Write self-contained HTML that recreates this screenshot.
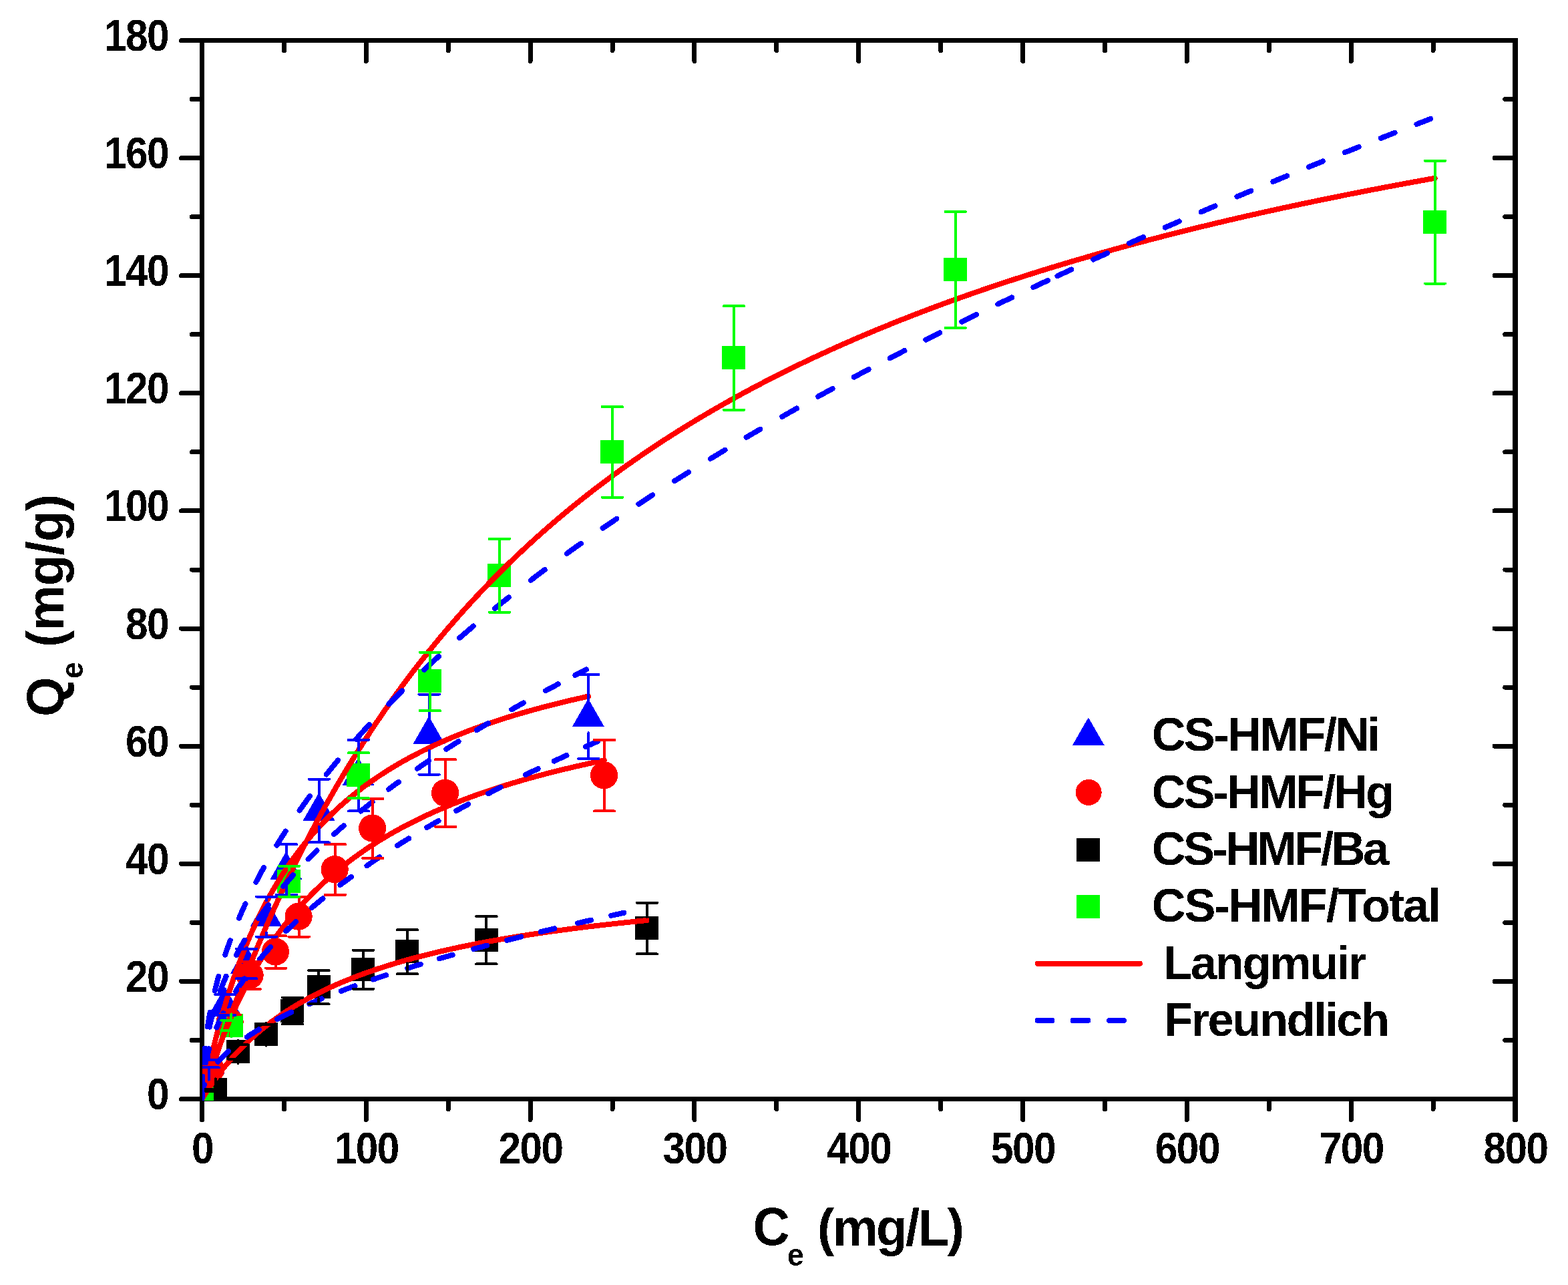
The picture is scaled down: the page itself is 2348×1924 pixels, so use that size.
<!DOCTYPE html>
<html lang="en"><head><meta charset="utf-8"><title>Adsorption isotherms</title>
<style>html,body{margin:0;padding:0;background:#fff;}body{width:2348px;height:1924px;overflow:hidden;}svg{display:block;}text{font-family:"Liberation Sans",sans-serif;font-weight:bold;fill:#000;}</style>
</head><body>
<svg width="2348" height="1924" viewBox="0 0 2348 1924" role="img" aria-label="Adsorption isotherms: Qe (mg/g) versus Ce (mg/L) with Langmuir and Freundlich fits">
<defs><clipPath id="plot"><rect x="303" y="56.5" width="1970" height="1591.5"/></clipPath>
<filter id="crisp" x="0" y="0" width="100%" height="100%" filterUnits="objectBoundingBox" color-interpolation-filters="sRGB"><feComponentTransfer><feFuncA type="discrete" tableValues="0 1"/></feComponentTransfer></filter>
</defs>
<rect width="2348" height="1924" fill="#ffffff"/>
<g id="axes" stroke="#000" fill="none" shape-rendering="crispEdges">
<line x1="299" y1="60.5" x2="2273" y2="60.5" stroke-width="7"/>
<line x1="299" y1="1645.5" x2="2273" y2="1645.5" stroke-width="7"/>
<line x1="302.5" y1="57" x2="302.5" y2="1649" stroke-width="7"/>
<line x1="2269" y1="57" x2="2269" y2="1649" stroke-width="8"/>
</g>
<g id="ticks" stroke="#000" fill="none" stroke-width="7" stroke-linecap="round" shape-rendering="crispEdges">
<line x1="302.5" y1="1645.5" x2="271.5" y2="1645.5"/>
<line x1="2269" y1="1645.5" x2="2238" y2="1645.5"/>
<line x1="302.5" y1="1557.44" x2="287.3" y2="1557.44"/>
<line x1="2269" y1="1557.44" x2="2253.8" y2="1557.44"/>
<line x1="302.5" y1="1469.39" x2="271.5" y2="1469.39"/>
<line x1="2269" y1="1469.39" x2="2238" y2="1469.39"/>
<line x1="302.5" y1="1381.33" x2="287.3" y2="1381.33"/>
<line x1="2269" y1="1381.33" x2="2253.8" y2="1381.33"/>
<line x1="302.5" y1="1293.28" x2="271.5" y2="1293.28"/>
<line x1="2269" y1="1293.28" x2="2238" y2="1293.28"/>
<line x1="302.5" y1="1205.22" x2="287.3" y2="1205.22"/>
<line x1="2269" y1="1205.22" x2="2253.8" y2="1205.22"/>
<line x1="302.5" y1="1117.17" x2="271.5" y2="1117.17"/>
<line x1="2269" y1="1117.17" x2="2238" y2="1117.17"/>
<line x1="302.5" y1="1029.11" x2="287.3" y2="1029.11"/>
<line x1="2269" y1="1029.11" x2="2253.8" y2="1029.11"/>
<line x1="302.5" y1="941.06" x2="271.5" y2="941.06"/>
<line x1="2269" y1="941.06" x2="2238" y2="941.06"/>
<line x1="302.5" y1="853" x2="287.3" y2="853"/>
<line x1="2269" y1="853" x2="2253.8" y2="853"/>
<line x1="302.5" y1="764.94" x2="271.5" y2="764.94"/>
<line x1="2269" y1="764.94" x2="2238" y2="764.94"/>
<line x1="302.5" y1="676.89" x2="287.3" y2="676.89"/>
<line x1="2269" y1="676.89" x2="2253.8" y2="676.89"/>
<line x1="302.5" y1="588.83" x2="271.5" y2="588.83"/>
<line x1="2269" y1="588.83" x2="2238" y2="588.83"/>
<line x1="302.5" y1="500.78" x2="287.3" y2="500.78"/>
<line x1="2269" y1="500.78" x2="2253.8" y2="500.78"/>
<line x1="302.5" y1="412.72" x2="271.5" y2="412.72"/>
<line x1="2269" y1="412.72" x2="2238" y2="412.72"/>
<line x1="302.5" y1="324.67" x2="287.3" y2="324.67"/>
<line x1="2269" y1="324.67" x2="2253.8" y2="324.67"/>
<line x1="302.5" y1="236.61" x2="271.5" y2="236.61"/>
<line x1="2269" y1="236.61" x2="2238" y2="236.61"/>
<line x1="302.5" y1="148.56" x2="287.3" y2="148.56"/>
<line x1="2269" y1="148.56" x2="2253.8" y2="148.56"/>
<line x1="302.5" y1="60.5" x2="271.5" y2="60.5"/>
<line x1="2269" y1="60.5" x2="2238" y2="60.5"/>
<line x1="302.5" y1="1645.5" x2="302.5" y2="1676.5"/>
<line x1="302.5" y1="60.5" x2="302.5" y2="91.5"/>
<line x1="425.41" y1="1645.5" x2="425.41" y2="1660.7"/>
<line x1="425.41" y1="60.5" x2="425.41" y2="75.7"/>
<line x1="548.31" y1="1645.5" x2="548.31" y2="1676.5"/>
<line x1="548.31" y1="60.5" x2="548.31" y2="91.5"/>
<line x1="671.22" y1="1645.5" x2="671.22" y2="1660.7"/>
<line x1="671.22" y1="60.5" x2="671.22" y2="75.7"/>
<line x1="794.12" y1="1645.5" x2="794.12" y2="1676.5"/>
<line x1="794.12" y1="60.5" x2="794.12" y2="91.5"/>
<line x1="917.03" y1="1645.5" x2="917.03" y2="1660.7"/>
<line x1="917.03" y1="60.5" x2="917.03" y2="75.7"/>
<line x1="1039.94" y1="1645.5" x2="1039.94" y2="1676.5"/>
<line x1="1039.94" y1="60.5" x2="1039.94" y2="91.5"/>
<line x1="1162.84" y1="1645.5" x2="1162.84" y2="1660.7"/>
<line x1="1162.84" y1="60.5" x2="1162.84" y2="75.7"/>
<line x1="1285.75" y1="1645.5" x2="1285.75" y2="1676.5"/>
<line x1="1285.75" y1="60.5" x2="1285.75" y2="91.5"/>
<line x1="1408.66" y1="1645.5" x2="1408.66" y2="1660.7"/>
<line x1="1408.66" y1="60.5" x2="1408.66" y2="75.7"/>
<line x1="1531.56" y1="1645.5" x2="1531.56" y2="1676.5"/>
<line x1="1531.56" y1="60.5" x2="1531.56" y2="91.5"/>
<line x1="1654.47" y1="1645.5" x2="1654.47" y2="1660.7"/>
<line x1="1654.47" y1="60.5" x2="1654.47" y2="75.7"/>
<line x1="1777.38" y1="1645.5" x2="1777.38" y2="1676.5"/>
<line x1="1777.38" y1="60.5" x2="1777.38" y2="91.5"/>
<line x1="1900.28" y1="1645.5" x2="1900.28" y2="1660.7"/>
<line x1="1900.28" y1="60.5" x2="1900.28" y2="75.7"/>
<line x1="2023.19" y1="1645.5" x2="2023.19" y2="1676.5"/>
<line x1="2023.19" y1="60.5" x2="2023.19" y2="91.5"/>
<line x1="2146.09" y1="1645.5" x2="2146.09" y2="1660.7"/>
<line x1="2146.09" y1="60.5" x2="2146.09" y2="75.7"/>
<line x1="2269" y1="1645.5" x2="2269" y2="1676.5" stroke-width="8"/>
<line x1="2269" y1="60.5" x2="2269" y2="91.5"/>
</g>
<g id="series" clip-path="url(#plot)">
<g id="sym-Ni" fill="#0000ff" stroke="none" shape-rendering="crispEdges">
<polygon points="312.5,1565.57 336.5,1607.57 288.5,1607.57"/>
<polygon points="336.91,1477.51 360.91,1519.51 312.91,1519.51"/>
<polygon points="368.87,1415.87 392.87,1457.87 344.87,1457.87"/>
<polygon points="398.61,1345.43 422.61,1387.43 374.61,1387.43"/>
<polygon points="428.36,1274.98 452.36,1316.98 404.36,1316.98"/>
<polygon points="477.52,1186.93 501.52,1228.93 453.52,1228.93"/>
<polygon points="536.51,1134.09 560.51,1176.09 512.51,1176.09"/>
<polygon points="642.21,1072.46 666.21,1114.46 618.21,1114.46"/>
<polygon points="880.9,1046.04 904.9,1088.04 856.9,1088.04"/>
</g>
<g id="sym-Hg" fill="#ff0000" stroke="none" shape-rendering="crispEdges">
<circle cx="315.82" cy="1601.07" r="20.6"/>
<circle cx="344.09" cy="1530.63" r="20.6"/>
<circle cx="374.08" cy="1460.18" r="20.6"/>
<circle cx="412.42" cy="1424.96" r="20.6"/>
<circle cx="447.08" cy="1372.13" r="20.6"/>
<circle cx="501.16" cy="1301.68" r="20.6"/>
<circle cx="557.7" cy="1240.04" r="20.6"/>
<circle cx="666.59" cy="1187.21" r="20.6"/>
<circle cx="904.54" cy="1160.79" r="20.6"/>
</g>
<g id="sym-Ba" fill="#000000" stroke="none" shape-rendering="crispEdges">
<rect x="304.91" y="1614.39" width="35" height="35"/>
<rect x="338.59" y="1557.16" width="35" height="35"/>
<rect x="380.5" y="1530.74" width="35" height="35"/>
<rect x="420.2" y="1495.52" width="35" height="35"/>
<rect x="459.53" y="1460.29" width="35" height="35"/>
<rect x="525.9" y="1433.88" width="35" height="35"/>
<rect x="592.02" y="1407.46" width="35" height="35"/>
<rect x="710.5" y="1389.85" width="35" height="35"/>
<rect x="950.91" y="1372.24" width="35" height="35"/>
</g>
<g id="sym-Total" fill="#00ff00" stroke="none" shape-rendering="crispEdges">
<rect x="285" y="1627.6" width="35" height="35"/>
<rect x="328.51" y="1517.53" width="35" height="35"/>
<rect x="415.03" y="1301.79" width="35" height="35"/>
<rect x="519.01" y="1143.29" width="35" height="35"/>
<rect x="625.94" y="1002.41" width="35" height="35"/>
<rect x="729.92" y="843.91" width="35" height="35"/>
<rect x="899.04" y="658.99" width="35" height="35"/>
<rect x="1080.94" y="518.1" width="35" height="35"/>
<rect x="1412.79" y="386.02" width="35" height="35"/>
<rect x="2131.05" y="314.69" width="35" height="35"/>
</g>
<g id="langmuir" fill="none" stroke="#ff0000" stroke-width="8" stroke-linecap="round" stroke-linejoin="round" shape-rendering="crispEdges">
<path id="L-Ni" d="M302.5,1645.5 L302.5,1645.49 L302.51,1645.47 L302.51,1645.44 L302.52,1645.38 L302.54,1645.31 L302.56,1645.22 L302.58,1645.1 L302.61,1644.97 L302.64,1644.81 L302.67,1644.63 L302.71,1644.43 L302.76,1644.21 L302.81,1643.96 L302.86,1643.68 L302.92,1643.39 L302.99,1643.07 L303.06,1642.72 L303.13,1642.35 L303.21,1641.95 L303.3,1641.53 L303.39,1641.09 L303.48,1640.61 L303.59,1640.11 L303.69,1639.59 L303.8,1639.04 L303.92,1638.46 L304.05,1637.86 L304.17,1637.23 L304.31,1636.57 L304.45,1635.89 L304.59,1635.18 L304.75,1634.45 L304.9,1633.69 L305.07,1632.9 L305.24,1632.08 L305.41,1631.24 L305.59,1630.37 L305.78,1629.48 L305.97,1628.55 L306.17,1627.61 L306.37,1626.63 L306.59,1625.63 L306.8,1624.61 L307.03,1623.55 L307.26,1622.47 L307.49,1621.37 L307.73,1620.24 L307.98,1619.08 L308.23,1617.9 L308.5,1616.7 L308.76,1615.46 L309.04,1614.21 L309.32,1612.92 L309.6,1611.62 L309.89,1610.29 L310.19,1608.93 L310.5,1607.55 L310.81,1606.15 L311.13,1604.72 L311.45,1603.27 L311.79,1601.79 L312.12,1600.3 L312.47,1598.78 L312.82,1597.23 L313.18,1595.67 L313.54,1594.08 L313.91,1592.47 L314.29,1590.84 L314.68,1589.19 L315.07,1587.52 L315.47,1585.82 L315.87,1584.11 L316.28,1582.37 L316.7,1580.62 L317.13,1578.84 L317.56,1577.05 L318,1575.24 L318.45,1573.41 L318.9,1571.55 L319.36,1569.69 L319.83,1567.8 L320.3,1565.9 L320.78,1563.98 L321.27,1562.04 L321.77,1560.08 L322.27,1558.11 L322.78,1556.12 L323.29,1554.12 L323.82,1552.1 L324.35,1550.07 L324.89,1548.02 L325.43,1545.96 L325.98,1543.88 L326.54,1541.79 L327.11,1539.69 L327.68,1537.57 L328.26,1535.44 L328.85,1533.3 L329.45,1531.15 L330.05,1528.98 L330.66,1526.81 L331.27,1524.62 L331.9,1522.42 L332.53,1520.21 L333.17,1517.99 L333.82,1515.76 L334.47,1513.52 L335.13,1511.27 L335.8,1509.02 L336.47,1506.75 L337.16,1504.48 L337.85,1502.2 L338.55,1499.91 L339.25,1497.61 L339.96,1495.31 L340.69,1493 L341.41,1490.68 L342.15,1488.36 L342.89,1486.03 L343.64,1483.7 L344.4,1481.36 L345.17,1479.01 L345.94,1476.67 L346.72,1474.31 L347.51,1471.96 L348.3,1469.6 L349.11,1467.23 L349.92,1464.86 L350.74,1462.49 L351.56,1460.12 L352.4,1457.75 L353.24,1455.37 L354.09,1452.99 L354.95,1450.61 L355.81,1448.23 L356.68,1445.85 L357.56,1443.46 L358.45,1441.08 L359.35,1438.69 L360.25,1436.31 L361.16,1433.92 L362.08,1431.54 L363.01,1429.16 L363.94,1426.77 L364.89,1424.39 L365.84,1422.01 L366.8,1419.63 L367.76,1417.25 L368.74,1414.88 L369.72,1412.5 L370.71,1410.13 L371.71,1407.77 L372.71,1405.4 L373.72,1403.04 L374.75,1400.68 L375.78,1398.32 L376.81,1395.97 L377.86,1393.62 L378.91,1391.27 L379.97,1388.93 L381.04,1386.59 L382.12,1384.26 L383.2,1381.93 L384.3,1379.6 L385.4,1377.29 L386.51,1374.97 L387.63,1372.66 L388.75,1370.36 L389.88,1368.06 L391.03,1365.76 L392.18,1363.47 L393.33,1361.19 L394.5,1358.92 L395.67,1356.65 L396.86,1354.38 L398.05,1352.12 L399.24,1349.87 L400.45,1347.63 L401.67,1345.39 L402.89,1343.15 L404.12,1340.93 L405.36,1338.71 L406.61,1336.5 L407.86,1334.29 L409.13,1332.1 L410.4,1329.91 L411.68,1327.72 L412.97,1325.55 L414.26,1323.38 L415.57,1321.22 L416.88,1319.07 L418.2,1316.92 L419.53,1314.78 L420.87,1312.65 L422.22,1310.53 L423.57,1308.42 L424.94,1306.31 L426.31,1304.22 L427.69,1302.13 L429.08,1300.05 L430.47,1297.97 L431.88,1295.91 L433.29,1293.85 L434.71,1291.8 L436.14,1289.76 L437.58,1287.73 L439.03,1285.71 L440.48,1283.7 L441.95,1281.69 L443.42,1279.7 L444.9,1277.71 L446.39,1275.73 L447.89,1273.76 L449.39,1271.8 L450.91,1269.84 L452.43,1267.9 L453.96,1265.96 L455.5,1264.04 L457.05,1262.12 L458.6,1260.21 L460.17,1258.31 L461.74,1256.42 L463.33,1254.54 L464.92,1252.66 L466.52,1250.8 L468.12,1248.94 L469.74,1247.1 L471.37,1245.26 L473,1243.43 L474.64,1241.61 L476.29,1239.8 L477.95,1238 L479.62,1236.2 L481.3,1234.42 L482.98,1232.65 L484.68,1230.88 L486.38,1229.12 L488.09,1227.37 L489.81,1225.63 L491.54,1223.9 L493.28,1222.18 L495.02,1220.47 L496.78,1218.76 L498.54,1217.07 L500.31,1215.38 L502.09,1213.71 L503.88,1212.04 L505.68,1210.38 L507.49,1208.73 L509.3,1207.08 L511.13,1205.45 L512.96,1203.83 L514.8,1202.21 L516.65,1200.6 L518.51,1199 L520.38,1197.41 L522.25,1195.83 L524.14,1194.26 L526.03,1192.69 L527.94,1191.14 L529.85,1189.59 L531.77,1188.05 L533.7,1186.52 L535.64,1185 L537.59,1183.48 L539.54,1181.98 L541.51,1180.48 L543.48,1178.99 L545.46,1177.51 L547.45,1176.04 L549.46,1174.57 L551.46,1173.12 L553.48,1171.67 L555.51,1170.23 L557.55,1168.8 L559.59,1167.38 L561.64,1165.96 L563.71,1164.55 L565.78,1163.15 L567.86,1161.76 L569.95,1160.38 L572.05,1159 L574.15,1157.63 L576.27,1156.27 L578.4,1154.92 L580.53,1153.58 L582.67,1152.24 L584.82,1150.91 L586.99,1149.59 L589.16,1148.27 L591.34,1146.97 L593.52,1145.67 L595.72,1144.38 L597.93,1143.09 L600.14,1141.82 L602.37,1140.55 L604.6,1139.29 L606.84,1138.03 L609.09,1136.78 L611.35,1135.54 L613.62,1134.31 L615.9,1133.08 L618.19,1131.87 L620.49,1130.65 L622.79,1129.45 L625.11,1128.25 L627.43,1127.06 L629.76,1125.88 L632.11,1124.7 L634.46,1123.53 L636.82,1122.37 L639.19,1121.21 L641.57,1120.06 L643.95,1118.92 L646.35,1117.78 L648.76,1116.65 L651.17,1115.53 L653.6,1114.41 L656.03,1113.3 L658.47,1112.2 L660.92,1111.1 L663.38,1110.01 L665.85,1108.93 L668.33,1107.85 L670.82,1106.78 L673.32,1105.72 L675.83,1104.66 L678.34,1103.6 L680.87,1102.56 L683.4,1101.52 L685.95,1100.48 L688.5,1099.45 L691.06,1098.43 L693.64,1097.42 L696.22,1096.41 L698.81,1095.4 L701.41,1094.4 L704.02,1093.41 L706.63,1092.42 L709.26,1091.44 L711.9,1090.47 L714.54,1089.5 L717.2,1088.54 L719.86,1087.58 L722.54,1086.63 L725.22,1085.68 L727.91,1084.74 L730.61,1083.8 L733.33,1082.87 L736.05,1081.95 L738.78,1081.03 L741.52,1080.11 L744.26,1079.2 L747.02,1078.3 L749.79,1077.4 L752.57,1076.51 L755.35,1075.62 L758.15,1074.74 L760.95,1073.86 L763.77,1072.99 L766.59,1072.12 L769.42,1071.26 L772.26,1070.4 L775.12,1069.55 L777.98,1068.7 L780.85,1067.86 L783.73,1067.02 L786.62,1066.19 L789.52,1065.36 L792.42,1064.54 L795.34,1063.72 L798.27,1062.91 L801.21,1062.1 L804.15,1061.3 L807.11,1060.5 L810.07,1059.7 L813.05,1058.91 L816.03,1058.13 L819.03,1057.35 L822.03,1056.57 L825.04,1055.8 L828.06,1055.03 L831.09,1054.27 L834.14,1053.51 L837.19,1052.76 L840.25,1052.01 L843.32,1051.26 L846.4,1050.52 L849.48,1049.78 L852.58,1049.05 L855.69,1048.32 L858.81,1047.6 L861.93,1046.88 L865.07,1046.16 L868.22,1045.45 L871.37,1044.74 L874.54,1044.04 L877.71,1043.34 L880.9,1042.64"/>
<path id="L-Hg" d="M302.5,1645.5 L302.5,1645.5 L302.51,1645.48 L302.51,1645.46 L302.52,1645.42 L302.54,1645.36 L302.56,1645.3 L302.58,1645.22 L302.61,1645.12 L302.64,1645.01 L302.68,1644.88 L302.72,1644.73 L302.77,1644.57 L302.82,1644.4 L302.88,1644.2 L302.94,1643.99 L303.01,1643.76 L303.08,1643.51 L303.16,1643.24 L303.24,1642.96 L303.33,1642.66 L303.43,1642.34 L303.53,1642 L303.63,1641.64 L303.74,1641.26 L303.86,1640.87 L303.98,1640.45 L304.11,1640.02 L304.24,1639.57 L304.38,1639.1 L304.53,1638.6 L304.68,1638.09 L304.84,1637.56 L305,1637.02 L305.17,1636.45 L305.35,1635.86 L305.53,1635.25 L305.72,1634.63 L305.91,1633.98 L306.11,1633.32 L306.32,1632.63 L306.53,1631.93 L306.75,1631.2 L306.98,1630.46 L307.21,1629.7 L307.45,1628.92 L307.7,1628.12 L307.95,1627.3 L308.21,1626.46 L308.47,1625.6 L308.74,1624.73 L309.02,1623.83 L309.31,1622.92 L309.6,1621.99 L309.89,1621.04 L310.2,1620.07 L310.51,1619.08 L310.83,1618.07 L311.15,1617.05 L311.48,1616 L311.82,1614.94 L312.17,1613.87 L312.52,1612.77 L312.88,1611.66 L313.25,1610.52 L313.62,1609.38 L314,1608.21 L314.38,1607.03 L314.78,1605.83 L315.18,1604.61 L315.59,1603.38 L316,1602.13 L316.42,1600.87 L316.85,1599.59 L317.29,1598.29 L317.73,1596.98 L318.18,1595.65 L318.64,1594.3 L319.1,1592.94 L319.58,1591.57 L320.06,1590.18 L320.54,1588.78 L321.04,1587.36 L321.54,1585.93 L322.05,1584.48 L322.56,1583.02 L323.08,1581.55 L323.61,1580.06 L324.15,1578.56 L324.7,1577.05 L325.25,1575.52 L325.81,1573.99 L326.38,1572.43 L326.95,1570.87 L327.53,1569.3 L328.12,1567.71 L328.72,1566.11 L329.32,1564.5 L329.94,1562.88 L330.56,1561.25 L331.18,1559.6 L331.82,1557.95 L332.46,1556.29 L333.11,1554.61 L333.77,1552.93 L334.43,1551.24 L335.11,1549.53 L335.79,1547.82 L336.48,1546.1 L337.17,1544.37 L337.87,1542.63 L338.59,1540.89 L339.31,1539.13 L340.03,1537.37 L340.77,1535.6 L341.51,1533.82 L342.26,1532.04 L343.02,1530.24 L343.78,1528.45 L344.56,1526.64 L345.34,1524.83 L346.13,1523.01 L346.92,1521.19 L347.73,1519.36 L348.54,1517.52 L349.36,1515.68 L350.19,1513.83 L351.03,1511.98 L351.87,1510.13 L352.73,1508.27 L353.59,1506.4 L354.45,1504.54 L355.33,1502.66 L356.22,1500.79 L357.11,1498.91 L358.01,1497.02 L358.92,1495.14 L359.83,1493.25 L360.76,1491.35 L361.69,1489.46 L362.63,1487.56 L363.58,1485.66 L364.54,1483.76 L365.5,1481.86 L366.48,1479.95 L367.46,1478.05 L368.45,1476.14 L369.45,1474.23 L370.45,1472.32 L371.47,1470.41 L372.49,1468.5 L373.52,1466.58 L374.56,1464.67 L375.61,1462.76 L376.66,1460.84 L377.72,1458.93 L378.8,1457.02 L379.88,1455.11 L380.96,1453.19 L382.06,1451.28 L383.17,1449.37 L384.28,1447.46 L385.4,1445.56 L386.53,1443.65 L387.67,1441.75 L388.82,1439.84 L389.97,1437.94 L391.14,1436.04 L392.31,1434.14 L393.49,1432.25 L394.68,1430.35 L395.87,1428.46 L397.08,1426.57 L398.29,1424.68 L399.51,1422.8 L400.75,1420.92 L401.98,1419.04 L403.23,1417.17 L404.49,1415.29 L405.75,1413.43 L407.03,1411.56 L408.31,1409.7 L409.6,1407.84 L410.9,1405.99 L412.21,1404.13 L413.52,1402.29 L414.85,1400.44 L416.18,1398.6 L417.52,1396.77 L418.87,1394.94 L420.23,1393.11 L421.6,1391.29 L422.97,1389.47 L424.36,1387.66 L425.75,1385.85 L427.15,1384.04 L428.56,1382.24 L429.98,1380.45 L431.41,1378.66 L432.85,1376.88 L434.29,1375.1 L435.75,1373.32 L437.21,1371.55 L438.68,1369.79 L440.16,1368.03 L441.65,1366.27 L443.15,1364.52 L444.66,1362.78 L446.17,1361.04 L447.69,1359.31 L449.23,1357.59 L450.77,1355.86 L452.32,1354.15 L453.88,1352.44 L455.45,1350.74 L457.02,1349.04 L458.61,1347.35 L460.2,1345.66 L461.81,1343.98 L463.42,1342.31 L465.04,1340.64 L466.67,1338.97 L468.31,1337.32 L469.96,1335.67 L471.61,1334.02 L473.28,1332.39 L474.95,1330.75 L476.64,1329.13 L478.33,1327.51 L480.03,1325.9 L481.74,1324.29 L483.46,1322.69 L485.19,1321.1 L486.92,1319.51 L488.67,1317.93 L490.42,1316.35 L492.19,1314.78 L493.96,1313.22 L495.74,1311.66 L497.53,1310.12 L499.33,1308.57 L501.14,1307.04 L502.96,1305.51 L504.78,1303.98 L506.62,1302.47 L508.47,1300.95 L510.32,1299.45 L512.18,1297.95 L514.06,1296.46 L515.94,1294.98 L517.83,1293.5 L519.73,1292.03 L521.63,1290.56 L523.55,1289.1 L525.48,1287.65 L527.41,1286.21 L529.36,1284.77 L531.31,1283.34 L533.28,1281.91 L535.25,1280.49 L537.23,1279.08 L539.22,1277.67 L541.22,1276.27 L543.23,1274.88 L545.25,1273.49 L547.28,1272.11 L549.31,1270.74 L551.36,1269.37 L553.41,1268.01 L555.48,1266.65 L557.55,1265.31 L559.64,1263.96 L561.73,1262.63 L563.83,1261.3 L565.94,1259.98 L568.06,1258.66 L570.19,1257.35 L572.33,1256.05 L574.47,1254.75 L576.63,1253.46 L578.8,1252.18 L580.97,1250.9 L583.16,1249.63 L585.35,1248.36 L587.56,1247.1 L589.77,1245.85 L591.99,1244.6 L594.22,1243.36 L596.46,1242.13 L598.71,1240.9 L600.97,1239.68 L603.24,1238.46 L605.52,1237.25 L607.81,1236.05 L610.11,1234.85 L612.41,1233.66 L614.73,1232.47 L617.05,1231.29 L619.39,1230.12 L621.73,1228.95 L624.09,1227.79 L626.45,1226.63 L628.82,1225.48 L631.2,1224.34 L633.59,1223.2 L635.99,1222.07 L638.41,1220.94 L640.83,1219.82 L643.25,1218.71 L645.69,1217.6 L648.14,1216.49 L650.6,1215.4 L653.07,1214.3 L655.54,1213.22 L658.03,1212.14 L660.52,1211.06 L663.03,1209.99 L665.54,1208.93 L668.07,1207.87 L670.6,1206.82 L673.15,1205.77 L675.7,1204.73 L678.26,1203.69 L680.83,1202.66 L683.42,1201.64 L686.01,1200.62 L688.61,1199.6 L691.22,1198.59 L693.84,1197.59 L696.47,1196.59 L699.11,1195.59 L701.76,1194.61 L704.41,1193.62 L707.08,1192.65 L709.76,1191.67 L712.45,1190.7 L715.14,1189.74 L717.85,1188.79 L720.57,1187.83 L723.29,1186.89 L726.03,1185.94 L728.77,1185.01 L731.53,1184.07 L734.29,1183.15 L737.07,1182.22 L739.85,1181.31 L742.65,1180.39 L745.45,1179.49 L748.26,1178.58 L751.09,1177.69 L753.92,1176.79 L756.76,1175.9 L759.61,1175.02 L762.47,1174.14 L765.35,1173.27 L768.23,1172.4 L771.12,1171.53 L774.02,1170.67 L776.93,1169.82 L779.85,1168.96 L782.78,1168.12 L785.72,1167.28 L788.67,1166.44 L791.63,1165.6 L794.6,1164.78 L797.58,1163.95 L800.57,1163.13 L803.57,1162.32 L806.57,1161.5 L809.59,1160.7 L812.62,1159.89 L815.66,1159.1 L818.71,1158.3 L821.77,1157.51 L824.83,1156.73 L827.91,1155.94 L831,1155.17 L834.09,1154.39 L837.2,1153.63 L840.32,1152.86 L843.45,1152.1 L846.58,1151.34 L849.73,1150.59 L852.89,1149.84 L856.05,1149.1 L859.23,1148.36 L862.41,1147.62 L865.61,1146.89 L868.82,1146.16 L872.03,1145.43 L875.26,1144.71 L878.49,1143.99 L881.74,1143.28 L885,1142.57 L888.26,1141.86 L891.54,1141.16 L894.82,1140.46 L898.12,1139.77 L901.42,1139.08 L904.74,1138.39"/>
<path id="L-Ba" d="M302.5,1645.5 L302.5,1645.5 L302.51,1645.49 L302.51,1645.48 L302.53,1645.46 L302.54,1645.43 L302.57,1645.39 L302.59,1645.35 L302.62,1645.3 L302.66,1645.24 L302.7,1645.17 L302.75,1645.09 L302.8,1645.01 L302.86,1644.91 L302.92,1644.81 L302.99,1644.7 L303.06,1644.57 L303.14,1644.44 L303.23,1644.3 L303.32,1644.15 L303.42,1643.99 L303.52,1643.82 L303.63,1643.64 L303.75,1643.45 L303.87,1643.25 L304,1643.04 L304.14,1642.82 L304.28,1642.59 L304.43,1642.35 L304.58,1642.1 L304.74,1641.84 L304.91,1641.57 L305.09,1641.29 L305.27,1640.99 L305.45,1640.69 L305.65,1640.38 L305.85,1640.06 L306.06,1639.73 L306.27,1639.38 L306.5,1639.03 L306.72,1638.67 L306.96,1638.29 L307.2,1637.91 L307.45,1637.51 L307.71,1637.11 L307.97,1636.7 L308.25,1636.27 L308.52,1635.84 L308.81,1635.39 L309.1,1634.94 L309.4,1634.47 L309.71,1634 L310.02,1633.51 L310.35,1633.02 L310.68,1632.51 L311.01,1632 L311.36,1631.47 L311.71,1630.94 L312.07,1630.39 L312.43,1629.84 L312.81,1629.28 L313.19,1628.7 L313.58,1628.12 L313.98,1627.53 L314.38,1626.93 L314.79,1626.32 L315.21,1625.7 L315.64,1625.08 L316.08,1624.44 L316.52,1623.8 L316.97,1623.14 L317.43,1622.48 L317.9,1621.81 L318.37,1621.13 L318.85,1620.44 L319.34,1619.74 L319.84,1619.04 L320.35,1618.33 L320.86,1617.61 L321.38,1616.88 L321.91,1616.14 L322.45,1615.4 L323,1614.64 L323.55,1613.89 L324.11,1613.12 L324.68,1612.34 L325.26,1611.56 L325.85,1610.78 L326.44,1609.98 L327.04,1609.18 L327.65,1608.37 L328.27,1607.55 L328.9,1606.73 L329.54,1605.9 L330.18,1605.07 L330.83,1604.23 L331.49,1603.38 L332.16,1602.53 L332.84,1601.67 L333.52,1600.8 L334.22,1599.93 L334.92,1599.06 L335.63,1598.17 L336.35,1597.29 L337.07,1596.39 L337.81,1595.5 L338.55,1594.6 L339.31,1593.69 L340.07,1592.78 L340.84,1591.86 L341.61,1590.94 L342.4,1590.02 L343.2,1589.09 L344,1588.15 L344.81,1587.22 L345.63,1586.27 L346.46,1585.33 L347.3,1584.38 L348.15,1583.43 L349,1582.47 L349.87,1581.51 L350.74,1580.55 L351.62,1579.59 L352.51,1578.62 L353.41,1577.65 L354.32,1576.67 L355.23,1575.69 L356.16,1574.72 L357.09,1573.73 L358.04,1572.75 L358.99,1571.76 L359.95,1570.77 L360.92,1569.78 L361.89,1568.79 L362.88,1567.8 L363.88,1566.8 L364.88,1565.8 L365.9,1564.8 L366.92,1563.8 L367.95,1562.8 L368.99,1561.8 L370.04,1560.79 L371.1,1559.79 L372.16,1558.78 L373.24,1557.77 L374.33,1556.76 L375.42,1555.76 L376.52,1554.75 L377.64,1553.74 L378.76,1552.73 L379.89,1551.72 L381.03,1550.71 L382.18,1549.69 L383.33,1548.68 L384.5,1547.67 L385.68,1546.66 L386.86,1545.65 L388.06,1544.64 L389.26,1543.63 L390.47,1542.62 L391.69,1541.61 L392.93,1540.6 L394.17,1539.6 L395.41,1538.59 L396.67,1537.58 L397.94,1536.58 L399.22,1535.57 L400.51,1534.57 L401.8,1533.57 L403.11,1532.57 L404.42,1531.57 L405.74,1530.57 L407.08,1529.57 L408.42,1528.57 L409.77,1527.58 L411.13,1526.59 L412.5,1525.6 L413.88,1524.61 L415.27,1523.62 L416.67,1522.63 L418.08,1521.65 L419.49,1520.67 L420.92,1519.68 L422.36,1518.71 L423.8,1517.73 L425.26,1516.75 L426.72,1515.78 L428.2,1514.81 L429.68,1513.84 L431.17,1512.88 L432.68,1511.91 L434.19,1510.95 L435.71,1509.99 L437.24,1509.04 L438.78,1508.08 L440.33,1507.13 L441.89,1506.18 L443.46,1505.24 L445.04,1504.29 L446.63,1503.35 L448.23,1502.41 L449.83,1501.48 L451.45,1500.55 L453.08,1499.62 L454.72,1498.69 L456.36,1497.76 L458.02,1496.84 L459.68,1495.92 L461.36,1495.01 L463.04,1494.1 L464.74,1493.19 L466.44,1492.28 L468.16,1491.38 L469.88,1490.48 L471.62,1489.58 L473.36,1488.68 L475.11,1487.79 L476.87,1486.9 L478.65,1486.02 L480.43,1485.14 L482.22,1484.26 L484.02,1483.38 L485.84,1482.51 L487.66,1481.64 L489.49,1480.78 L491.33,1479.91 L493.18,1479.05 L495.04,1478.2 L496.91,1477.35 L498.8,1476.5 L500.69,1475.65 L502.59,1474.81 L504.5,1473.97 L506.42,1473.13 L508.35,1472.3 L510.29,1471.47 L512.24,1470.65 L514.2,1469.82 L516.17,1469.01 L518.15,1468.19 L520.14,1467.38 L522.14,1466.57 L524.15,1465.76 L526.17,1464.96 L528.2,1464.16 L530.24,1463.37 L532.29,1462.58 L534.35,1461.79 L536.42,1461.01 L538.5,1460.23 L540.59,1459.45 L542.69,1458.67 L544.8,1457.9 L546.92,1457.14 L549.05,1456.37 L551.19,1455.61 L553.34,1454.86 L555.5,1454.1 L557.67,1453.35 L559.85,1452.61 L562.05,1451.86 L564.25,1451.13 L566.46,1450.39 L568.68,1449.66 L570.91,1448.93 L573.15,1448.2 L575.41,1447.48 L577.67,1446.76 L579.94,1446.05 L582.22,1445.33 L584.52,1444.63 L586.82,1443.92 L589.13,1443.22 L591.46,1442.52 L593.79,1441.83 L596.13,1441.13 L598.49,1440.45 L600.85,1439.76 L603.23,1439.08 L605.61,1438.4 L608.01,1437.73 L610.41,1437.05 L612.83,1436.39 L615.25,1435.72 L617.69,1435.06 L620.14,1434.4 L622.59,1433.75 L625.06,1433.1 L627.54,1432.45 L630.03,1431.8 L632.53,1431.16 L635.03,1430.52 L637.55,1429.89 L640.08,1429.25 L642.62,1428.62 L645.17,1428 L647.73,1427.38 L650.31,1426.76 L652.89,1426.14 L655.48,1425.53 L658.08,1424.92 L660.69,1424.31 L663.32,1423.71 L665.95,1423.11 L668.6,1422.51 L671.25,1421.91 L673.92,1421.32 L676.59,1420.73 L679.28,1420.15 L681.97,1419.57 L684.68,1418.99 L687.4,1418.41 L690.13,1417.84 L692.86,1417.27 L695.61,1416.7 L698.37,1416.14 L701.14,1415.58 L703.92,1415.02 L706.71,1414.46 L709.52,1413.91 L712.33,1413.36 L715.15,1412.81 L717.99,1412.27 L720.83,1411.73 L723.68,1411.19 L726.55,1410.66 L729.42,1410.12 L732.31,1409.59 L735.21,1409.07 L738.12,1408.54 L741.03,1408.02 L743.96,1407.5 L746.9,1406.99 L749.85,1406.48 L752.81,1405.97 L755.78,1405.46 L758.77,1404.95 L761.76,1404.45 L764.76,1403.95 L767.78,1403.45 L770.8,1402.96 L773.84,1402.47 L776.88,1401.98 L779.94,1401.49 L783.01,1401.01 L786.09,1400.53 L789.18,1400.05 L792.28,1399.57 L795.39,1399.1 L798.51,1398.63 L801.64,1398.16 L804.78,1397.7 L807.94,1397.23 L811.1,1396.77 L814.28,1396.31 L817.46,1395.86 L820.66,1395.4 L823.87,1394.95 L827.08,1394.5 L830.31,1394.06 L833.55,1393.61 L836.8,1393.17 L840.07,1392.73 L843.34,1392.3 L846.62,1391.86 L849.92,1391.43 L853.22,1391 L856.54,1390.57 L859.86,1390.15 L863.2,1389.73 L866.55,1389.3 L869.91,1388.89 L873.28,1388.47 L876.66,1388.06 L880.05,1387.64 L883.45,1387.24 L886.87,1386.83 L890.29,1386.42 L893.73,1386.02 L897.17,1385.62 L900.63,1385.22 L904.1,1384.82 L907.58,1384.43 L911.07,1384.04 L914.57,1383.65 L918.08,1383.26 L921.61,1382.87 L925.14,1382.49 L928.68,1382.11 L932.24,1381.73 L935.81,1381.35 L939.39,1380.97 L942.97,1380.6 L946.57,1380.23 L950.19,1379.86 L953.81,1379.49 L957.44,1379.12 L961.08,1378.76 L964.74,1378.4 L968.41,1378.04"/>
<path id="L-Total" d="M302.5,1645.5 L302.5,1645.49 L302.52,1645.45 L302.54,1645.38 L302.57,1645.27 L302.62,1645.12 L302.68,1644.94 L302.75,1644.71 L302.84,1644.44 L302.94,1644.12 L303.05,1643.76 L303.18,1643.36 L303.33,1642.91 L303.49,1642.41 L303.66,1641.86 L303.85,1641.27 L304.06,1640.63 L304.28,1639.93 L304.52,1639.19 L304.78,1638.39 L305.05,1637.55 L305.34,1636.65 L305.64,1635.7 L305.97,1634.7 L306.31,1633.65 L306.66,1632.55 L307.04,1631.39 L307.43,1630.18 L307.84,1628.91 L308.27,1627.59 L308.72,1626.22 L309.18,1624.8 L309.67,1623.32 L310.17,1621.78 L310.69,1620.2 L311.23,1618.55 L311.79,1616.86 L312.37,1615.11 L312.96,1613.31 L313.58,1611.45 L314.21,1609.54 L314.87,1607.57 L315.54,1605.55 L316.23,1603.48 L316.94,1601.35 L317.68,1599.17 L318.43,1596.94 L319.2,1594.65 L319.99,1592.31 L320.8,1589.92 L321.64,1587.47 L322.49,1584.97 L323.36,1582.43 L324.25,1579.82 L325.17,1577.17 L326.1,1574.47 L327.05,1571.71 L328.03,1568.91 L329.02,1566.05 L330.04,1563.14 L331.08,1560.19 L332.14,1557.18 L333.22,1554.13 L334.32,1551.02 L335.44,1547.87 L336.58,1544.67 L337.75,1541.43 L338.93,1538.14 L340.14,1534.8 L341.37,1531.41 L342.62,1527.98 L343.89,1524.5 L345.18,1520.98 L346.5,1517.42 L347.83,1513.81 L349.19,1510.16 L350.57,1506.46 L351.97,1502.73 L353.4,1498.95 L354.85,1495.13 L356.31,1491.27 L357.81,1487.37 L359.32,1483.43 L360.85,1479.45 L362.41,1475.43 L363.99,1471.38 L365.6,1467.29 L367.22,1463.16 L368.87,1458.99 L370.54,1454.79 L372.23,1450.56 L373.95,1446.29 L375.69,1441.99 L377.45,1437.65 L379.23,1433.28 L381.04,1428.88 L382.87,1424.45 L384.72,1419.99 L386.6,1415.5 L388.5,1410.97 L390.42,1406.42 L392.37,1401.84 L394.34,1397.24 L396.33,1392.6 L398.35,1387.94 L400.39,1383.26 L402.45,1378.55 L404.53,1373.81 L406.64,1369.05 L408.78,1364.27 L410.93,1359.46 L413.12,1354.64 L415.32,1349.79 L417.55,1344.92 L419.8,1340.03 L422.07,1335.12 L424.37,1330.19 L426.7,1325.24 L429.04,1320.27 L431.42,1315.29 L433.81,1310.29 L436.23,1305.28 L438.67,1300.24 L441.14,1295.2 L443.63,1290.14 L446.15,1285.06 L448.69,1279.98 L451.26,1274.88 L453.84,1269.77 L456.46,1264.64 L459.1,1259.51 L461.76,1254.36 L464.44,1249.21 L467.16,1244.05 L469.89,1238.87 L472.65,1233.69 L475.44,1228.51 L478.25,1223.31 L481.08,1218.11 L483.94,1212.9 L486.83,1207.69 L489.73,1202.47 L492.67,1197.25 L495.63,1192.02 L498.61,1186.79 L501.62,1181.55 L504.65,1176.32 L507.71,1171.08 L510.8,1165.84 L513.9,1160.6 L517.04,1155.36 L520.2,1150.11 L523.38,1144.87 L526.59,1139.63 L529.83,1134.39 L533.09,1129.15 L536.37,1123.91 L539.68,1118.68 L543.02,1113.44 L546.38,1108.21 L549.77,1102.99 L553.18,1097.77 L556.62,1092.55 L560.08,1087.34 L563.57,1082.13 L567.09,1076.92 L570.63,1071.73 L574.19,1066.54 L577.79,1061.35 L581.4,1056.17 L585.05,1051 L588.72,1045.84 L592.41,1040.68 L596.13,1035.54 L599.88,1030.4 L603.65,1025.27 L607.45,1020.15 L611.28,1015.04 L615.13,1009.93 L619,1004.84 L622.91,999.76 L626.84,994.69 L630.79,989.62 L634.77,984.57 L638.78,979.54 L642.82,974.51 L646.88,969.49 L650.96,964.49 L655.07,959.5 L659.21,954.52 L663.38,949.55 L667.57,944.6 L671.79,939.66 L676.03,934.73 L680.3,929.81 L684.6,924.91 L688.93,920.03 L693.28,915.15 L697.65,910.29 L702.06,905.45 L706.49,900.62 L710.95,895.81 L715.43,891.01 L719.94,886.22 L724.48,881.45 L729.04,876.7 L733.63,871.96 L738.25,867.24 L742.9,862.53 L747.57,857.84 L752.27,853.16 L756.99,848.5 L761.74,843.86 L766.52,839.23 L771.33,834.62 L776.16,830.03 L781.02,825.45 L785.91,820.89 L790.82,816.34 L795.77,811.82 L800.73,807.31 L805.73,802.82 L810.75,798.34 L815.8,793.88 L820.88,789.44 L825.99,785.02 L831.12,780.61 L836.28,776.23 L841.46,771.86 L846.68,767.5 L851.92,763.17 L857.19,758.85 L862.49,754.55 L867.81,750.27 L873.16,746.01 L878.54,741.76 L883.95,737.53 L889.38,733.32 L894.84,729.13 L900.33,724.96 L905.85,720.8 L911.39,716.66 L916.97,712.54 L922.57,708.44 L928.19,704.36 L933.85,700.29 L939.53,696.25 L945.24,692.22 L950.98,688.21 L956.75,684.22 L962.54,680.24 L968.36,676.28 L974.21,672.35 L980.09,668.43 L986,664.53 L991.93,660.64 L997.89,656.78 L1003.88,652.93 L1009.9,649.1 L1015.95,645.29 L1022.02,641.5 L1028.13,637.72 L1034.26,633.97 L1040.41,630.23 L1046.6,626.51 L1052.82,622.8 L1059.06,619.12 L1065.33,615.45 L1071.63,611.8 L1077.96,608.17 L1084.31,604.56 L1090.7,600.96 L1097.11,597.38 L1103.55,593.82 L1110.02,590.28 L1116.52,586.76 L1123.05,583.25 L1129.6,579.76 L1136.19,576.29 L1142.8,572.83 L1149.44,569.39 L1156.11,565.97 L1162.8,562.57 L1169.53,559.18 L1176.28,555.81 L1183.07,552.46 L1189.88,549.13 L1196.72,545.81 L1203.59,542.51 L1210.49,539.23 L1217.41,535.96 L1224.37,532.71 L1231.35,529.48 L1238.36,526.26 L1245.4,523.06 L1252.47,519.88 L1259.57,516.71 L1266.7,513.56 L1273.86,510.43 L1281.04,507.31 L1288.26,504.21 L1295.5,501.12 L1302.77,498.06 L1310.07,495 L1317.41,491.97 L1324.76,488.95 L1332.15,485.94 L1339.57,482.95 L1347.02,479.98 L1354.49,477.02 L1362,474.08 L1369.53,471.15 L1377.09,468.24 L1384.68,465.35 L1392.3,462.47 L1399.96,459.6 L1407.63,456.75 L1415.34,453.92 L1423.08,451.1 L1430.85,448.3 L1438.64,445.51 L1446.47,442.74 L1454.32,439.98 L1462.21,437.23 L1470.12,434.5 L1478.07,431.79 L1486.04,429.09 L1494.04,426.4 L1502.07,423.73 L1510.13,421.07 L1518.22,418.43 L1526.34,415.8 L1534.49,413.19 L1542.67,410.59 L1550.88,408 L1559.11,405.43 L1567.38,402.87 L1575.68,400.33 L1584,397.8 L1592.36,395.28 L1600.75,392.78 L1609.16,390.29 L1617.61,387.81 L1626.08,385.35 L1634.59,382.9 L1643.12,380.46 L1651.68,378.04 L1660.28,375.63 L1668.9,373.23 L1677.55,370.85 L1686.24,368.48 L1694.95,366.12 L1703.69,363.77 L1712.46,361.44 L1721.27,359.12 L1730.1,356.81 L1738.96,354.52 L1747.85,352.24 L1756.77,349.97 L1765.73,347.71 L1774.71,345.46 L1783.72,343.23 L1792.76,341.01 L1801.83,338.8 L1810.93,336.6 L1820.07,334.42 L1829.23,332.24 L1838.42,330.08 L1847.64,327.93 L1856.9,325.79 L1866.18,323.67 L1875.49,321.55 L1884.83,319.45 L1894.21,317.36 L1903.61,315.28 L1913.04,313.21 L1922.51,311.15 L1932,309.1 L1941.52,307.07 L1951.08,305.04 L1960.66,303.03 L1970.28,301.02 L1979.92,299.03 L1989.6,297.05 L1999.31,295.08 L2009.04,293.12 L2018.81,291.17 L2028.61,289.23 L2038.43,287.3 L2048.29,285.38 L2058.18,283.48 L2068.1,281.58 L2078.05,279.69 L2088.03,277.81 L2098.04,275.95 L2108.08,274.09 L2118.15,272.24 L2128.26,270.41 L2138.39,268.58 L2148.55,266.76"/>
</g>
<g id="freundlich" fill="none" stroke="#0000ff" stroke-width="8" stroke-linecap="round" stroke-linejoin="round" shape-rendering="crispEdges">
<path id="F-Ni" d="M302.5,1645.5 302.52,1639.23 302.6,1632.96 302.74,1626.68 302.94,1620.41M304.91,1591.61 305.69,1584.27 306.6,1576.93 307.63,1569.59M313.67,1537.53 315.36,1530.45 317.17,1523.37 319.11,1516.29M329.66,1484.08 332.49,1476.7 335.46,1469.31 338.59,1461.93M353.9,1430.06 356.87,1424.5 359.94,1418.94 363.1,1413.39 366.35,1407.83M387.31,1375.24 390.88,1370.15 394.53,1365.05 398.26,1359.96 402.08,1354.87M424.2,1327.24 429.02,1321.6 433.94,1315.96 438.96,1310.31M461.6,1286.2 465.81,1281.93 470.07,1277.66 474.4,1273.39M499.9,1249.35 504.82,1244.91 509.74,1240.52 514.66,1236.2M540.2,1214.59 545.98,1209.88 551.76,1205.23 557.54,1200.64M582.1,1181.73 587.02,1178.05 591.94,1174.41 596.86,1170.8M625,1150.78 630.69,1146.84 636.38,1142.95 642.07,1139.09M668.3,1121.74 674.38,1117.82 680.46,1113.93 686.54,1110.08M713.8,1093.2 719.49,1089.75 725.19,1086.33 730.88,1082.93M766.2,1062.39 772.09,1059.05 777.97,1055.73 783.86,1052.44M817,1034.29 823.27,1030.93 829.54,1027.59 835.82,1024.27M861.4,1010.96 866.9,1008.14 872.4,1005.33 877.9,1002.54"/>
<path id="F-Hg" d="M302.5,1645.5 302.59,1638.33 302.86,1631.15 303.32,1623.98M307.86,1591.65 309.4,1584.56 311.15,1577.46 313.1,1570.37M324.4,1538.43 327.5,1531.28 330.82,1524.12 334.35,1516.96M353.13,1484.31 357.29,1477.99 361.61,1471.67 366.09,1465.35M389.1,1436.04 392.96,1431.53 396.91,1427.02 400.95,1422.51 405.08,1418M428.2,1394.26 433.12,1389.51 438.05,1384.84 442.97,1380.26M466.8,1359.18 472.33,1354.52 477.85,1349.93 483.38,1345.42M509.5,1325 515.03,1320.85 520.55,1316.76 526.08,1312.72M549.49,1296.14 555.82,1291.8 562.15,1287.51 568.48,1283.28M594.9,1266.14 600.63,1262.53 606.35,1258.96 612.08,1255.42M639.3,1239.04 645.03,1235.68 650.75,1232.35 656.48,1229.05M683.3,1213.93 689.23,1210.67 695.16,1207.43 701.08,1204.21M731.1,1188.29 737.24,1185.11 743.37,1181.95 749.51,1178.81M787,1160.1 793.19,1157.08 799.38,1154.08 805.57,1151.1M829.9,1139.57 836.06,1136.7 842.22,1133.84 848.37,1131M877,1118 882.93,1115.35 888.86,1112.71 894.78,1110.09"/>
<path id="F-Ba" d="M302.5,1645.5 302.87,1638.27 304.03,1631.03 306,1623.8M326.3,1589.84 331.08,1584.61 336.3,1579.38 341.96,1574.14M370,1552.61 375.89,1548.71 381.78,1544.97 387.66,1541.37M415,1526.1 422.05,1522.48 429.1,1518.97 436.15,1515.56M463.4,1503.15 469.51,1500.52 475.62,1497.94 481.73,1495.4M511,1483.82 517.82,1481.24 524.65,1478.7 531.47,1476.21M558.9,1466.53 565.31,1464.34 571.72,1462.19 578.13,1460.05M610.2,1449.75 616.75,1447.71 623.31,1445.69 629.86,1443.7M658,1435.35 664.55,1433.46 671.11,1431.58 677.66,1429.72M709.2,1420.99 715.75,1419.22 722.31,1417.46 728.86,1415.72M759.2,1407.83 766.2,1406.04 773.2,1404.27 780.2,1402.52M809.9,1395.21 816.68,1393.57 823.45,1391.94 830.23,1390.33M865.2,1382.16 871.75,1380.65 878.31,1379.16 884.86,1377.67M915.3,1370.88 921.63,1369.49 927.96,1368.11 934.3,1366.73"/>
<path id="F-Total" d="M302.5,1645.5 302.53,1638.66 302.61,1631.81 302.77,1624.97 302.98,1618.13 303.26,1611.28M304.52,1590.77 305.1,1583.71 305.75,1576.65 306.48,1569.59M310.81,1537.24 311.99,1530.06 313.25,1522.89 314.59,1515.72M321.65,1483.46 323.44,1476.33 325.31,1469.19 327.27,1462.06M337.2,1429.63 339.64,1422.43 342.16,1415.23 344.78,1408.04M358,1374.7 361.07,1367.56 364.23,1360.43 367.47,1353.3M383.3,1320.87 386.17,1315.36 389.09,1309.84 392.06,1304.33 395.08,1298.82M414.4,1265.61 417.64,1260.34 420.93,1255.07 424.26,1249.8 427.64,1244.53M448.6,1213.42 452.35,1208.1 456.15,1202.78 460,1197.45 463.9,1192.13M488.9,1159.5 493.1,1154.24 497.35,1148.99 501.65,1143.73 505.99,1138.48M533.3,1106.7 538.19,1101.22 543.13,1095.75 548.12,1090.27 553.16,1084.79M582.2,1054.33 587.1,1049.35 592.04,1044.38 597.03,1039.4 602.06,1034.42M635.2,1002.68 640.63,997.64 646.06,992.64 651.48,987.68 656.91,982.76M688,955.31 693.2,950.83 698.39,946.39 703.59,941.97 708.79,937.58M741.1,910.95 746.3,906.76 751.49,902.59 756.69,898.45 761.89,894.34M794.9,868.75 800.1,864.8 805.29,860.88 810.49,856.97 815.69,853.09M848.9,828.74 854.17,824.94 859.44,821.17 864.71,817.41 869.98,813.68M902.6,790.93 907.8,787.36 912.99,783.81 918.19,780.28 923.39,776.76M956.4,754.77 961.6,751.36 966.79,747.96 971.99,744.58 977.19,741.21M1010,720.24 1015.25,716.93 1020.5,713.63 1025.75,710.35 1031.01,707.08M1063.8,686.92 1069.23,683.63 1074.66,680.35 1080.08,677.08 1085.51,673.82M1117.6,654.8 1122.8,651.75 1127.99,648.72 1133.19,645.69 1138.39,642.68M1171.3,623.81 1176.73,620.73 1182.16,617.67 1187.58,614.61 1193.01,611.56M1225.1,593.74 1230.47,590.8 1235.83,587.86 1241.2,584.93 1246.56,582M1278.9,564.57 1284.33,561.68 1289.76,558.79 1295.18,555.91 1300.61,553.03M1332.7,536.22 1338.13,533.4 1343.56,530.59 1348.98,527.79 1354.41,525M1386.4,508.68 1393.33,505.17 1400.26,501.68 1407.19,498.2M1440.2,481.78 1445.63,479.1 1451.06,476.43 1456.48,473.77 1461.91,471.11M1494.3,455.39 1501.25,452.04 1508.19,448.71 1515.14,445.39M1547.4,430.08 1554.64,426.67 1561.88,423.28 1569.11,419.89M1583.5,413.19 1590.43,409.98 1597.37,406.77 1604.3,403.57M1637.3,388.47 1644.23,385.33 1651.17,382.19 1658.1,379.06M1691.1,364.27 1698.03,361.18 1704.97,358.11 1711.9,355.04M1744.9,340.54 1751.83,337.52 1758.77,334.5 1765.7,331.49M1798.7,317.27 1805.63,314.3 1812.57,311.34 1819.5,308.39M1852.5,294.42 1859.43,291.51 1866.37,288.6 1873.3,285.7M1906.3,271.99 1913.23,269.12 1920.17,266.27 1927.1,263.42M1960.1,249.94 1967.03,247.12 1973.97,244.31 1980.9,241.51M2013.9,228.25 2020.83,225.48 2027.77,222.72 2034.7,219.96M2067.7,206.92 2074.63,204.19 2081.57,201.47 2088.5,198.76M2121.5,185.92 2128.43,183.23 2135.37,180.56 2142.3,177.88"/>
</g>
<g id="err-Hg" fill="none" stroke="#ff0000" stroke-width="4" stroke-linecap="round" shape-rendering="crispEdges">
<path d="M301.17,1596.63 H331.67 M301.17,1606.32 H331.67 M316.42,1596.63 V1581.47 M316.42,1606.32 V1621.47"/>
<path d="M329.44,1519.43 H359.94 M329.44,1542.63 H359.94 M344.69,1519.43 V1511.03 M344.69,1542.63 V1551.03"/>
<path d="M359.43,1440.24 H389.93 M359.43,1480.92 H389.93 M374.68,1440.24 V1440.58 M374.68,1480.92 V1480.58"/>
<path d="M397.77,1401.15 H428.27 M397.77,1449.58 H428.27 M413.02,1401.15 V1405.36 M413.02,1449.58 V1445.36"/>
<path d="M432.43,1342.5 H462.93 M432.43,1402.55 H462.93 M447.68,1342.5 V1352.53 M447.68,1402.55 V1392.53"/>
<path d="M486.51,1264.31 H517.01 M486.51,1339.86 H517.01 M501.76,1264.31 V1282.08 M501.76,1339.86 V1322.08"/>
<path d="M543.05,1195.89 H573.55 M543.05,1285 H573.55 M558.3,1195.89 V1220.44 M558.3,1285 V1260.44"/>
<path d="M651.94,1137.24 H682.44 M651.94,1237.98 H682.44 M667.19,1137.24 V1167.61 M667.19,1237.98 V1207.61"/>
<path d="M889.89,1107.92 H920.39 M889.89,1214.47 H920.39 M905.14,1107.92 V1141.19 M905.14,1214.47 V1181.19"/>
</g>
<g id="err-Ni" fill="none" stroke="#0000ff" stroke-width="4" stroke-linecap="round" shape-rendering="crispEdges">
<path d="M297.65,1586.86 H328.15 M297.65,1598.48 H328.15 M312.9,1586.86 V1568.67 M312.9,1598.48 V1616.67"/>
<path d="M322.06,1489.11 H352.56 M322.06,1520.11 H352.56 M337.31,1489.11 V1480.61 M337.31,1520.11 V1528.61"/>
<path d="M354.02,1420.69 H384.52 M354.02,1465.25 H384.52 M369.27,1420.69 V1418.97 M369.27,1465.25 V1466.97"/>
<path d="M383.76,1342.5 H414.26 M383.76,1402.55 H414.26 M399.01,1342.5 V1348.53 M399.01,1402.55 V1396.53"/>
<path d="M413.51,1264.31 H444.01 M413.51,1339.86 H444.01 M428.76,1264.31 V1278.08 M428.76,1339.86 V1326.08"/>
<path d="M462.67,1166.57 H493.17 M462.67,1261.49 H493.17 M477.92,1166.57 V1190.03 M477.92,1261.49 V1238.03"/>
<path d="M521.66,1107.92 H552.16 M521.66,1214.47 H552.16 M536.91,1107.92 V1137.19 M536.91,1214.47 V1185.19"/>
<path d="M627.36,1039.5 H657.86 M627.36,1159.61 H657.86 M642.61,1039.5 V1075.56 M642.61,1159.61 V1123.56"/>
<path d="M866.05,1010.18 H896.55 M866.05,1136.1 H896.55 M881.3,1010.18 V1049.14 M881.3,1136.1 V1097.14"/>
</g>
<g id="err-Ba" fill="none" stroke="#000000" stroke-width="4" stroke-linecap="round" shape-rendering="crispEdges">
<path d="M307.56,1630.89 H338.06 M307.56,1633.69 H338.06 M322.81,1630.89 V1615.29 M322.81,1633.69 V1649.29"/>
<path d="M341.24,1564.49 H371.74 M341.24,1585.62 H371.74 M356.49,1564.49 V1558.06 M356.49,1585.62 V1592.06"/>
<path d="M383.15,1534.11 H413.65 M383.15,1563.17 H413.65 M398.4,1534.11 V1531.64 M398.4,1563.17 V1565.64"/>
<path d="M422.85,1493.6 H453.35 M422.85,1533.23 H453.35 M438.1,1493.6 V1496.42 M438.1,1533.23 V1530.42"/>
<path d="M462.18,1453.1 H492.68 M462.18,1503.29 H492.68 M477.43,1453.1 V1461.19 M477.43,1503.29 V1495.19"/>
<path d="M528.55,1422.72 H559.05 M528.55,1480.84 H559.05 M543.8,1422.72 V1434.78 M543.8,1480.84 V1468.78"/>
<path d="M594.67,1392.34 H625.17 M594.67,1458.38 H625.17 M609.92,1392.34 V1408.36 M609.92,1458.38 V1442.36"/>
<path d="M713.15,1372.09 H743.65 M713.15,1443.41 H743.65 M728.4,1372.09 V1390.75 M728.4,1443.41 V1424.75"/>
<path d="M953.56,1351.83 H984.06 M953.56,1428.44 H984.06 M968.81,1351.83 V1373.14 M968.81,1428.44 V1407.14"/>
</g>
<g id="err-Total" fill="none" stroke="#00ff00" stroke-width="4" stroke-linecap="round" shape-rendering="crispEdges">
<path d="M331.16,1527.73 H361.66 M331.16,1543.14 H361.66 M346.41,1527.73 V1518.43 M346.41,1543.14 V1552.43"/>
<path d="M417.68,1296.89 H448.18 M417.68,1342.5 H448.18 M432.93,1296.89 V1302.69 M432.93,1342.5 V1336.69"/>
<path d="M521.66,1127.29 H552.16 M521.66,1195.1 H552.16 M536.91,1127.29 V1144.19 M536.91,1195.1 V1178.19"/>
<path d="M628.59,976.54 H659.09 M628.59,1064.07 H659.09 M643.84,976.54 V1003.31 M643.84,1064.07 V1037.31"/>
<path d="M732.57,806.95 H763.07 M732.57,916.66 H763.07 M747.82,806.95 V844.81 M747.82,916.66 V878.81"/>
<path d="M901.69,609.09 H932.19 M901.69,744.69 H932.19 M916.94,609.09 V659.89 M916.94,744.69 V693.89"/>
<path d="M1083.59,458.33 H1114.09 M1083.59,613.66 H1114.09 M1098.84,458.33 V519 M1098.84,613.66 V553"/>
<path d="M1415.44,317.01 H1445.94 M1415.44,490.83 H1445.94 M1430.69,317.01 V386.92 M1430.69,490.83 V420.92"/>
<path d="M2133.7,240.69 H2164.2 M2133.7,424.5 H2164.2 M2148.95,240.69 V315.59 M2148.95,424.5 V349.59"/>
</g>
</g>
<g id="legend-symbols" shape-rendering="crispEdges">
<polygon fill="#0000ff" points="1629.8,1074.3 1653.8,1116 1605.8,1116"/>
<circle fill="#ff0000" cx="1630.2" cy="1186.4" r="19.5"/>
<rect fill="#000000" x="1612" y="1255.3" width="35" height="35"/>
<rect fill="#00ff00" x="1612" y="1340" width="35" height="35"/>
<line x1="1553.7" y1="1442.7" x2="1707" y2="1442.7" stroke="#ff0000" stroke-width="8" stroke-linecap="round"/>
<path d="M1553.7,1528 H1575.5 M1606.6,1528 H1629.3 M1661.1,1528 H1682.8" stroke="#0000ff" stroke-width="8" stroke-linecap="round" fill="none"/>
</g>
<g id="labels" filter="url(#crisp)">
<text transform="translate(252.1,1661) scale(0.97,1.06)" font-size="62.2" letter-spacing="-1.59" text-anchor="end">0</text>
<text transform="translate(252.1,1484.89) scale(0.97,1.06)" font-size="62.2" letter-spacing="-1.59" text-anchor="end">20</text>
<text transform="translate(252.1,1308.78) scale(0.97,1.06)" font-size="62.2" letter-spacing="-1.59" text-anchor="end">40</text>
<text transform="translate(252.1,1132.67) scale(0.97,1.06)" font-size="62.2" letter-spacing="-1.59" text-anchor="end">60</text>
<text transform="translate(252.1,956.56) scale(0.97,1.06)" font-size="62.2" letter-spacing="-1.59" text-anchor="end">80</text>
<text transform="translate(252.1,780.44) scale(0.97,1.06)" font-size="62.2" letter-spacing="-1.59" text-anchor="end">100</text>
<text transform="translate(252.1,604.33) scale(0.97,1.06)" font-size="62.2" letter-spacing="-1.59" text-anchor="end">120</text>
<text transform="translate(252.1,428.22) scale(0.97,1.06)" font-size="62.2" letter-spacing="-1.59" text-anchor="end">140</text>
<text transform="translate(252.1,252.11) scale(0.97,1.06)" font-size="62.2" letter-spacing="-1.59" text-anchor="end">160</text>
<text transform="translate(252.1,76) scale(0.97,1.06)" font-size="62.2" letter-spacing="-1.59" text-anchor="end">180</text>
<text transform="translate(303,1741.9) scale(0.97,1.06)" font-size="62.2" letter-spacing="-1.59" text-anchor="middle">0</text>
<text transform="translate(548.81,1741.9) scale(0.97,1.06)" font-size="62.2" letter-spacing="-1.59" text-anchor="middle">100</text>
<text transform="translate(794.62,1741.9) scale(0.97,1.06)" font-size="62.2" letter-spacing="-1.59" text-anchor="middle">200</text>
<text transform="translate(1040.44,1741.9) scale(0.97,1.06)" font-size="62.2" letter-spacing="-1.59" text-anchor="middle">300</text>
<text transform="translate(1286.25,1741.9) scale(0.97,1.06)" font-size="62.2" letter-spacing="-1.59" text-anchor="middle">400</text>
<text transform="translate(1532.06,1741.9) scale(0.97,1.06)" font-size="62.2" letter-spacing="-1.59" text-anchor="middle">500</text>
<text transform="translate(1777.88,1741.9) scale(0.97,1.06)" font-size="62.2" letter-spacing="-1.59" text-anchor="middle">600</text>
<text transform="translate(2023.69,1741.9) scale(0.97,1.06)" font-size="62.2" letter-spacing="-1.59" text-anchor="middle">700</text>
<text transform="translate(2269.5,1741.9) scale(0.97,1.06)" font-size="62.2" letter-spacing="-1.59" text-anchor="middle">800</text>
<text transform="translate(1724.68,1124.3) scale(1,1.01)" font-size="70.4" letter-spacing="-2.65">CS-HMF/Ni</text>
<text transform="translate(1724.68,1209.65) scale(1,1.01)" font-size="70.4" letter-spacing="-2.96">CS-HMF/Hg</text>
<text transform="translate(1724.68,1295) scale(1,1.01)" font-size="70.4" letter-spacing="-3.47">CS-HMF/Ba</text>
<text transform="translate(1724.68,1380.35) scale(1,1.01)" font-size="70.4" letter-spacing="-2.11">CS-HMF/Total</text>
<text transform="translate(1742.37,1465.7) scale(1,1.01)" font-size="70.4" letter-spacing="-2.38">Langmuir</text>
<text transform="translate(1743.07,1551.05) scale(1,1.01)" font-size="70.4" letter-spacing="-2.43">Freundlich</text>
<text transform="translate(1127.44,1864.2) scale(1,1.045)" font-size="76.4">C</text>
<text transform="translate(1179.12,1894.6) scale(1,1.02)" font-size="44.5">e</text>
<text transform="translate(1223.88,1864.5) scale(1,1.02)" font-size="76.4" letter-spacing="-2.67">(mg/L)</text>
<text transform="translate(95.3,1073.06) rotate(-90) scale(1,1.045)" font-size="76.4">Q</text>
<text transform="translate(123.6,1015.88) rotate(-90) scale(1,1.02)" font-size="44.5">e</text>
<text transform="translate(95.3,968.92) rotate(-90) scale(1,1.02)" font-size="76.4" letter-spacing="-0.85">(mg/g)</text>
</g>
</svg>
</body></html>
